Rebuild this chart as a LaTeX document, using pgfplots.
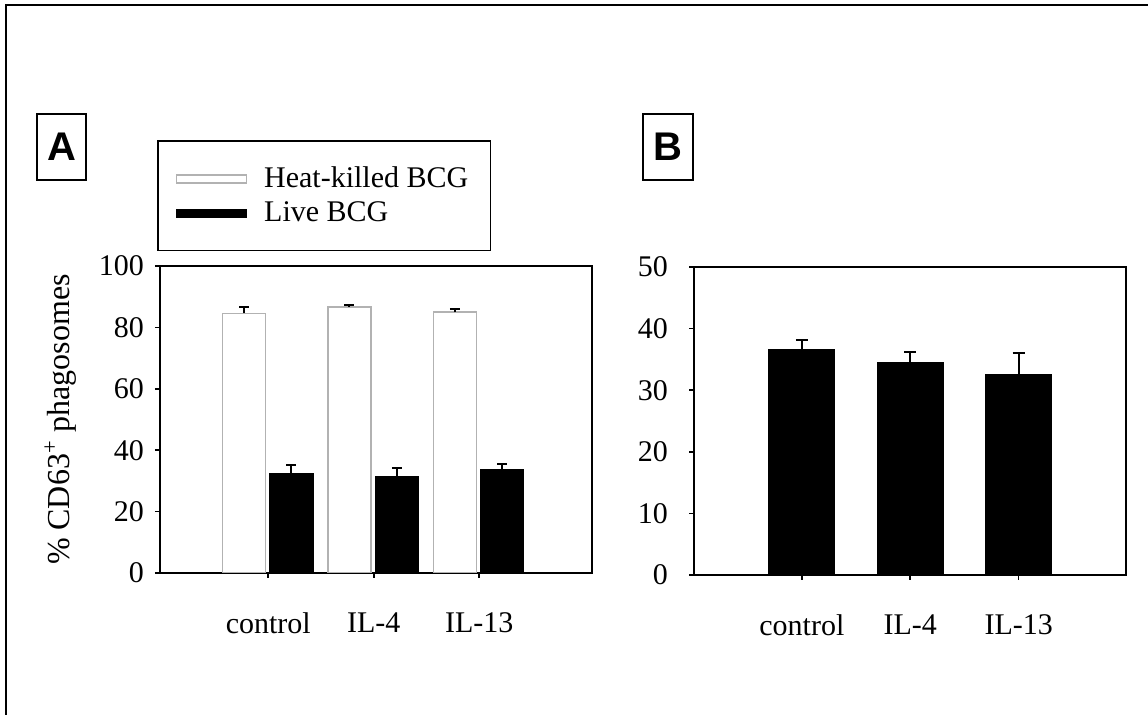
\documentclass[border=0pt]{standalone}
\usepackage{fontspec}
\setmainfont{Liberation Serif}
\newfontfamily\arial{Liberation Sans}
\usepackage{pgfplots}
\pgfplotsset{compat=1.18}

% shared look of both panels (1px of the reference = 0.5pt)
\pgfplotsset{panel/.style={
    scale only axis,
    width=216pt, height=153.5pt,
    axis line style={line width=1pt},
    ymin=0,
    xtick={1,2,3},
    xticklabels={control,IL-4,IL-13},
    tick pos=left,
    tick align=outside,
    major tick length=2.5pt,
    tick style={black, line width=0.8pt},
    ticklabel style={font=\fontsize{15}{18}\selectfont},
    /pgf/number format/assume math mode=true,
    xticklabel style={yshift=-14pt},
    yticklabel style={xshift=-2pt},
    error bars/y dir=plus,
    error bars/y explicit,
    error bars/error bar style={black, line width=1pt},
  },
  hk/.style={ybar, bar shift=0, fill=white, draw=gray!60, line width=0.7pt},
  live/.style={ybar, bar shift=0, fill=black, draw=black, line width=0.5pt},
}

\begin{document}
\begin{tikzpicture}
\useasboundingbox (0,0) rectangle (574pt,-357.5pt);

% panel A: bars sit at category -0.23 / +0.22
\begin{axis}[panel,
    at={(80pt,-286.5pt)}, anchor=south west,
    xmin=-0.027, xmax=4.07,
    ymax=100, ytick={0,20,40,60,80,100},
    ylabel={\% CD63\textsuperscript{+} phagosomes},
    every axis y label/.style={at={(axis description cs:-0.23,0.5)}, rotate=90, anchor=center, font=\fontsize{16}{19}\selectfont},
    error bars/error mark options={rotate=90, mark size=2.5pt, line width=1pt},
    legend style={at={(axis description cs:-0.007,1.41)}, anchor=north west,
      draw=black, line width=0.8pt, fill=white,
      inner xsep=9pt, inner ysep=11pt, row sep=1.5pt,
      font=\fontsize{15}{18}\selectfont, cells={anchor=west},
      /tikz/every odd column/.style={column sep=6.5pt}},
    legend image code/.code={\draw[#1] (0pt,-2pt) rectangle (35pt,2pt);},
  ]
\addplot[hk, bar width=0.41] coordinates {
  (0.77,84.6) +- (0,2.0)
  (1.77,86.6) +- (0,0.7)
  (2.77,85.0) +- (0,0.9)
};
\addlegendentry{Heat-killed BCG}
\addplot[live, bar width=0.41] coordinates {
  (1.22,32.5) +- (0,2.6)
  (2.22,31.5) +- (0,2.8)
  (3.22,33.7) +- (0,1.8)
};
\addlegendentry{Live BCG}
\end{axis}

% panel B
\begin{axis}[panel,
    at={(347pt,-287.5pt)}, anchor=south west,
    height=154pt,
    xmin=0.005, xmax=3.99,
    ymax=50, ytick={0,10,20,30,40,50},
    yticklabel style={xshift=-5pt},
    error bars/error mark options={rotate=90, mark size=3pt, line width=1pt},
  ]
\addplot[live, bar width=0.61] coordinates {
  (1,36.6) +- (0,1.6)
  (2,34.5) +- (0,1.7)
  (3,32.6) +- (0,3.4)
};
\end{axis}

\begin{scope}[x=0.5pt, y=-0.5pt]
  % outer frame, cut by the right and bottom edges
  \draw[line width=1pt] (6,720) -- (6,5) -- (1160,5);
  % panel letters
  \node[draw, line width=0.8pt, minimum width=24.5pt, minimum height=33pt,
        inner sep=0pt, font=\arial\bfseries\fontsize{20}{24}\selectfont]
        at (61.5,147) {A};
  \node[draw, line width=0.8pt, minimum width=25pt, minimum height=33pt,
        inner sep=0pt, font=\arial\bfseries\fontsize{20}{24}\selectfont]
        at (668,147) {B};
\end{scope}
\end{tikzpicture}
\end{document}
